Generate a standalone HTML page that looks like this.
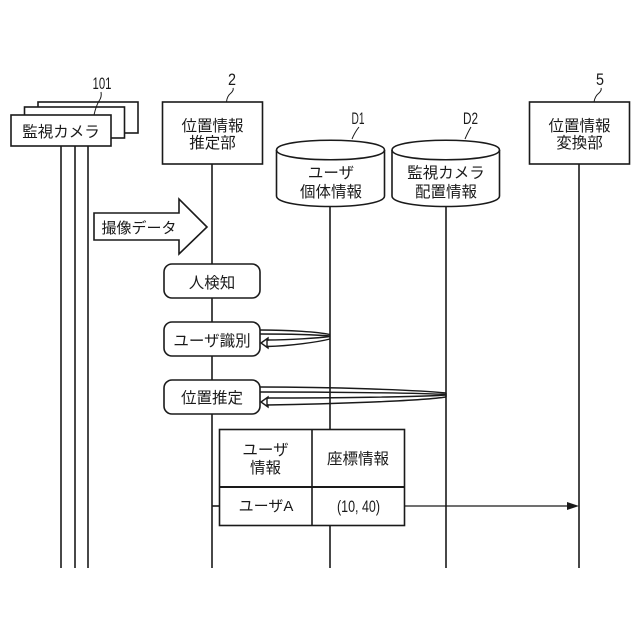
<!DOCTYPE html>
<html>
<head>
<meta charset="utf-8">
<style>
html,body{margin:0;padding:0;background:#fff;width:640px;height:640px;overflow:hidden}
svg{display:block}
text{font-family:"Liberation Sans","Noto Sans CJK JP",sans-serif;fill:#1a1a1a;text-anchor:middle}
.s{fill:none;stroke:#1a1a1a;stroke-width:1.6}
.t{fill:none;stroke:#1a1a1a;stroke-width:1}
.w{fill:#fff;stroke:#1a1a1a;stroke-width:1.6}
</style>
</head>
<body>
<svg width="640" height="640" viewBox="0 0 640 640" xmlns="http://www.w3.org/2000/svg">
<rect width="640" height="640" fill="#fff"/>

<!-- lifelines -->
<line class="s" x1="61" y1="146" x2="61" y2="568"/>
<line class="s" x1="75" y1="146" x2="75" y2="568"/>
<line class="s" x1="88" y1="146" x2="88" y2="568"/>
<line class="s" x1="212" y1="164" x2="212" y2="568"/>
<line class="s" x1="330" y1="205" x2="330" y2="568"/>
<line class="s" x1="446" y1="205" x2="446" y2="568"/>
<line class="s" x1="579" y1="164" x2="579" y2="568"/>

<!-- camera stack -->
<rect class="w" x="38" y="102" width="100" height="31"/>
<rect class="w" x="24.500" y="107" width="100" height="31"/>
<rect class="w" x="11" y="115" width="100" height="31"/>
<text x="61" y="137" font-size="15.500">監視カメラ</text>
<text x="102" y="89" font-size="17" textLength="19" lengthAdjust="spacingAndGlyphs">101</text>
<path class="t" d="M94 115 Q96 106 99 101 Q102 97 101 92"/>

<!-- estimator -->
<rect class="w" x="162.500" y="102" width="100" height="62"/>
<text x="212.500" y="131" font-size="15.500">位置情報</text>
<text x="212.500" y="148" font-size="15.500">推定部</text>
<text x="232" y="85" font-size="17" textLength="8" lengthAdjust="spacingAndGlyphs">2</text>
<path class="t" d="M226.500 102 Q227 96 231 93 Q234 90 233 88"/>

<!-- converter -->
<rect class="w" x="529.500" y="102" width="100" height="62"/>
<text x="579.500" y="131" font-size="15.500">位置情報</text>
<text x="579.500" y="148" font-size="15.500">変換部</text>
<text x="600" y="85" font-size="17" textLength="8" lengthAdjust="spacingAndGlyphs">5</text>
<path class="t" d="M594 102 Q595 96 599 93 Q602 90 601 88"/>

<!-- D1 -->
<path class="w" d="M276.500 150 C276.500 137 384.500 137 384.500 150 L384.500 196 C384.500 210 276.500 210 276.500 196 Z"/>
<path class="s" d="M276.500 150 C276.500 163 384.500 163 384.500 150"/>
<text x="331" y="178" font-size="15.500">ユーザ</text>
<text x="331" y="197" font-size="15.500">個体情報</text>
<text x="358" y="124" font-size="17" textLength="13" lengthAdjust="spacingAndGlyphs">D1</text>
<path class="t" d="M352 139 Q355 132 359 127"/>

<!-- D2 -->
<path class="w" d="M392 150 C392 137 499.500 137 499.500 150 L499.500 196 C499.500 210 392 210 392 196 Z"/>
<path class="s" d="M392 150 C392 163 499.500 163 499.500 150"/>
<text x="446" y="178" font-size="15.500">監視カメラ</text>
<text x="446" y="197" font-size="15.500">配置情報</text>
<text x="470.500" y="124" font-size="17" textLength="15" lengthAdjust="spacingAndGlyphs">D2</text>
<path class="t" d="M465 139 Q468 132 471 127"/>

<!-- block arrow -->
<polygon class="w" points="94,213 179,213 179,199 207,227 179,254 179,240 94,240"/>
<text x="139" y="233" font-size="15">撮像データ</text>

<!-- process boxes -->
<rect class="w" x="164" y="264" width="96" height="34" rx="8"/>
<text x="212" y="288" font-size="15.500">人検知</text>

<!-- loop 1 -->
<path class="s" style="stroke-width:1.400" d="M260 330 C290 330 318 332 330 334.500"/>
<path class="s" style="stroke-width:1.400" d="M260 334 C290 334 318 335 330 336"/>
<path class="s" style="stroke-width:1.400" d="M267 340 C290 340 318 338 330 336.500"/>
<path class="s" style="stroke-width:1.400" d="M267 346.500 C290 346 318 342 330 339"/>
<polygon class="w" style="stroke-width:1.400" points="261,343 268,338 268,340 267,340 267,346.500 268,346.500 268,348"/>
<rect class="w" x="164" y="322" width="96" height="34" rx="8"/>
<text x="212" y="346" font-size="15.500">ユーザ識別</text>

<!-- loop 2 -->
<path class="s" style="stroke-width:1.400" d="M260 387 C330 387 420 390 446 393"/>
<path class="s" style="stroke-width:1.400" d="M260 392 C330 392 420 393 446 394.500"/>
<path class="s" style="stroke-width:1.400" d="M267 398 C330 398 420 397 446 395"/>
<path class="s" style="stroke-width:1.400" d="M267 405 C330 404 420 401 446 397"/>
<line class="s" style="stroke-width:1.400" x1="446" y1="393" x2="446" y2="397"/>
<polygon class="w" style="stroke-width:1.400" points="261,402 268,397 268,398 267,398 267,405 268,405 268,407"/>
<rect class="w" x="164" y="380" width="96" height="34" rx="8"/>
<text x="212" y="403" font-size="15.500">位置推定</text>

<!-- table -->
<line class="s" x1="212" y1="506" x2="220" y2="506" stroke-width="1.200"/>
<rect class="w" x="219.500" y="429.500" width="185" height="96"/>
<line class="s" x1="312" y1="429.500" x2="312" y2="525.500"/>
<line class="s" style="stroke-width:2" x1="219.500" y1="487" x2="404.500" y2="487"/>
<text x="265.500" y="455" font-size="15.500">ユーザ</text>
<text x="265.500" y="473" font-size="15.500">情報</text>
<text x="358" y="464" font-size="15.500">座標情報</text>
<text x="266" y="511" font-size="15">ユーザA</text>
<text x="358.500" y="512" font-size="17" textLength="43" lengthAdjust="spacingAndGlyphs">(10, 40)</text>

<!-- message arrow -->
<line class="s" style="stroke-width:1.300" x1="405" y1="506" x2="568" y2="506"/>
<polygon points="567,502 579,506 567,510" fill="#1a1a1a"/>
</svg>
</body>
</html>
